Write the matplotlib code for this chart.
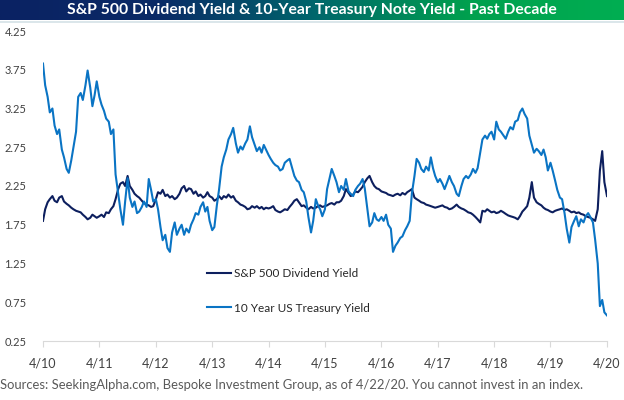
import numpy as np
import pandas as pd
import matplotlib
matplotlib.use("Agg")
import matplotlib.pyplot as plt
from matplotlib.colors import LinearSegmentedColormap

title = "S&P 500 Dividend Yield & 10-Year Treasury Note Yield - Past Decade"
source = "Sources: SeekingAlpha.com, Bespoke Investment Group, as of 4/22/20. You cannot invest in an index."
series_names = ["S&P 500 Dividend Yield", "10 Year US Treasury Yield"]
y_ticks = [0.25, 0.75, 1.25, 1.75, 2.25, 2.75, 3.25, 3.75, 4.25]
x_tick_labels = ["4/10", "4/11", "4/12", "4/13", "4/14", "4/15", "4/16", "4/17", "4/18", "4/19", "4/20"]

# semi-monthly observations, Apr 2010 .. Apr 2020
treasury = [
    # Apr10 - Mar11
    3.83, 3.55, 3.40, 3.20, 3.25, 3.03, 2.92, 2.98, 2.72, 2.62, 2.47, 2.42,
    2.58, 2.75, 2.95, 3.40, 3.45, 3.36, 3.55, 3.74, 3.52, 3.28, 3.42, 3.60,
    # Apr11 - Mar12
    3.40, 3.30, 3.22, 3.12, 3.08, 2.92, 2.98, 2.40, 2.15, 1.95, 1.75, 2.05,
    2.35, 2.10, 1.98, 2.05, 1.90, 1.92, 1.98, 2.05, 1.98, 2.34, 2.20, 2.05,
    # Apr12 - Mar13
    2.08, 1.95, 1.72, 1.55, 1.62, 1.45, 1.40, 1.65, 1.78, 1.62, 1.70, 1.75,
    1.62, 1.70, 1.65, 1.75, 1.82, 1.90, 1.88, 1.98, 2.04, 1.92, 1.98, 1.80,
    # Apr13 - Mar14
    1.68, 1.72, 2.00, 2.20, 2.50, 2.62, 2.72, 2.85, 2.92, 3.00, 2.80, 2.68,
    2.76, 2.72, 2.80, 2.85, 3.02, 2.88, 2.78, 2.70, 2.75, 2.68, 2.78, 2.72,
    # Apr14 - Mar15
    2.65, 2.60, 2.55, 2.52, 2.50, 2.45, 2.47, 2.55, 2.58, 2.60, 2.48, 2.38,
    2.32, 2.30, 2.20, 2.17, 2.05, 1.85, 1.65, 1.80, 2.08, 2.00, 1.95, 1.86,
    # Apr15 - Mar16
    1.95, 2.21, 2.35, 2.47, 2.38, 2.30, 2.17, 2.25, 2.20, 2.34, 2.18, 2.15,
    2.12, 2.20, 2.25, 2.28, 2.34, 2.22, 1.95, 1.73, 1.78, 1.90, 1.82, 1.80,
    # Apr16 - Mar17
    1.85, 1.80, 1.88, 1.75, 1.70, 1.40, 1.48, 1.52, 1.58, 1.60, 1.68, 1.73,
    1.80, 2.15, 2.38, 2.60, 2.55, 2.47, 2.43, 2.50, 2.45, 2.62, 2.48, 2.38,
    # Apr17 - Mar18
    2.30, 2.34, 2.28, 2.21, 2.30, 2.38, 2.30, 2.25, 2.15, 2.12, 2.25, 2.34,
    2.38, 2.35, 2.40, 2.47, 2.42, 2.48, 2.68, 2.85, 2.90, 2.86, 2.92, 2.95,
    # Apr18 - Mar19
    2.85, 3.08, 2.98, 2.95, 2.90, 2.86, 2.95, 3.01, 2.98, 3.08, 3.10, 3.20,
    3.25, 3.18, 3.12, 2.90, 2.78, 2.68, 2.73, 2.70, 2.65, 2.72, 2.62, 2.45,
    # Apr19 - Apr20
    2.55, 2.45, 2.32, 2.20, 2.10, 2.08, 1.90, 1.70, 1.52, 1.72, 1.80, 1.86,
    1.73, 1.82, 1.78, 1.86, 1.90, 1.85, 1.78, 1.56, 1.25, 0.70, 0.78, 0.62,
    0.58,
]

dividend = [
    # Apr10 - Mar11
    1.80, 1.95, 2.04, 2.08, 2.12, 2.06, 2.04, 2.10, 2.12, 2.05, 2.02, 2.00,
    1.97, 1.95, 1.93, 1.92, 1.91, 1.88, 1.85, 1.82, 1.84, 1.88, 1.86, 1.84,
    # Apr11 - Mar12
    1.86, 1.88, 1.85, 1.91, 1.90, 1.95, 1.99, 2.08, 2.21, 2.28, 2.30, 2.25,
    2.38, 2.25, 2.20, 2.15, 2.12, 2.10, 2.06, 2.03, 2.01, 2.00, 1.98, 1.99,
    # Apr12 - Mar13
    2.08, 2.17, 2.15, 2.20, 2.12, 2.14, 2.10, 2.12, 2.08, 2.10, 2.15, 2.22,
    2.25, 2.18, 2.22, 2.21, 2.15, 2.18, 2.12, 2.14, 2.10, 2.12, 2.17, 2.12,
    # Apr13 - Mar14
    2.10, 2.06, 2.08, 2.12, 2.08, 2.12, 2.10, 2.14, 2.10, 2.12, 2.06, 2.04,
    2.01, 2.00, 1.98, 1.95, 1.96, 1.99, 1.97, 1.99, 1.96, 1.98, 1.95, 1.97,
    # Apr14 - Mar15
    1.96, 1.97, 1.99, 1.94, 1.92, 1.91, 1.93, 1.95, 1.94, 1.98, 2.02, 2.06,
    2.08, 2.04, 1.99, 2.00, 1.97, 1.95, 1.98, 1.96, 1.97, 1.99, 2.00, 1.98,
    # Apr15 - Mar16
    1.99, 2.00, 2.02, 2.03, 2.01, 2.04, 2.04, 2.06, 2.12, 2.21, 2.16, 2.12,
    2.14, 2.18, 2.17, 2.20, 2.24, 2.30, 2.35, 2.38, 2.30, 2.25, 2.22, 2.21,
    # Apr16 - Mar17
    2.18, 2.17, 2.16, 2.14, 2.13, 2.12, 2.14, 2.15, 2.13, 2.16, 2.14, 2.17,
    2.19, 2.21, 2.10, 2.08, 2.06, 2.04, 2.03, 2.01, 2.00, 1.99, 1.98, 1.97,
    # Apr17 - Mar18
    1.98, 1.99, 2.00, 1.98, 1.97, 1.95, 1.96, 1.98, 2.01, 1.98, 1.96, 1.95,
    1.93, 1.91, 1.90, 1.88, 1.85, 1.82, 1.78, 1.93, 1.92, 1.95, 1.93, 1.91,
    # Apr18 - Mar19
    1.92, 1.90, 1.91, 1.93, 1.91, 1.89, 1.87, 1.86, 1.85, 1.84, 1.82, 1.86,
    1.92, 1.95, 1.99, 2.10, 2.30, 2.10, 2.04, 2.02, 2.00, 1.97, 1.95, 1.94,
    # Apr19 - Apr20
    1.92, 1.91, 1.93, 1.94, 1.95, 1.96, 1.94, 1.95, 1.93, 1.91, 1.92, 1.90,
    1.91, 1.89, 1.88, 1.86, 1.85, 1.84, 1.82, 1.80, 1.95, 2.45, 2.70, 2.30,
    2.12,
]

dates = pd.date_range("2010-04-01", periods=len(treasury), freq="SMS")
tick_dates = pd.date_range("2010-04-01", periods=len(x_tick_labels), freq="12MS")

navy = "#0d1f5e"
blue = "#0a74c4"

fig = plt.figure(figsize=(6.24, 4.0), dpi=100)

# title bar with gradient
tax = fig.add_axes([0, 1 - 20 / 400, 1, 20 / 400])
cmap = LinearSegmentedColormap.from_list("tb", ["#0a2263", "#0b2a66", "#00656c", "#00a04e", "#00ae52"])
tax.imshow(np.linspace(0, 1, 512)[None, :], aspect="auto", cmap=cmap, extent=[0, 1, 0, 1])
tax.set_axis_off()
tax.text(0.5, 0.48, title, color="white", fontsize=11.3, fontweight="bold",
         family="Lato", ha="center", va="center", transform=tax.transAxes)
fig.add_artist(plt.Line2D([0, 1], [1 - 21.5 / 400, 1 - 21.5 / 400], color="#d4e2e6", lw=1.2))

ax = fig.add_axes([43 / 624, 59 / 400, (607 - 43) / 624, (369 - 59) / 400])
ax.plot(dates, dividend, color=navy, lw=1.5, label=series_names[0])
ax.plot(dates, treasury, color=blue, lw=1.5, label=series_names[1])

ax.set_ylim(0.25, 4.25)
ax.set_xlim(tick_dates[0], tick_dates[-1])
ax.set_yticks(y_ticks)
ax.set_yticklabels([f"{v:.2f}" for v in y_ticks])
ax.set_xticks(tick_dates)
ax.set_xticklabels(x_tick_labels)
for s in ["top", "right", "left"]:
    ax.spines[s].set_visible(False)
ax.spines["bottom"].set_color("#d9d9d9")
ax.tick_params(axis="y", length=0, pad=12, labelsize=8, labelcolor="#404040")
ax.tick_params(axis="x", length=4, color="#d9d9d9", pad=8, labelsize=9, labelcolor="#404040")
for lab in ax.get_xticklabels() + ax.get_yticklabels():
    lab.set_family("Lato")

leg = ax.legend(loc="upper left", bbox_to_anchor=(207 / 624, (400 - 268) / 400),
                bbox_transform=fig.transFigure, frameon=False,
                handlelength=2.0, handletextpad=0.25, labelspacing=2.0, borderpad=0,
                borderaxespad=0, prop={"family": "Lato", "size": 8.5})
for t in leg.get_texts():
    t.set_color("#262626")

fig.text(0.0, (400 - 385) / 400, source, fontsize=9.4, color="#5a5a5a", family="Lato",
         ha="left", va="center")

fig.savefig("out.png", dpi=100)
